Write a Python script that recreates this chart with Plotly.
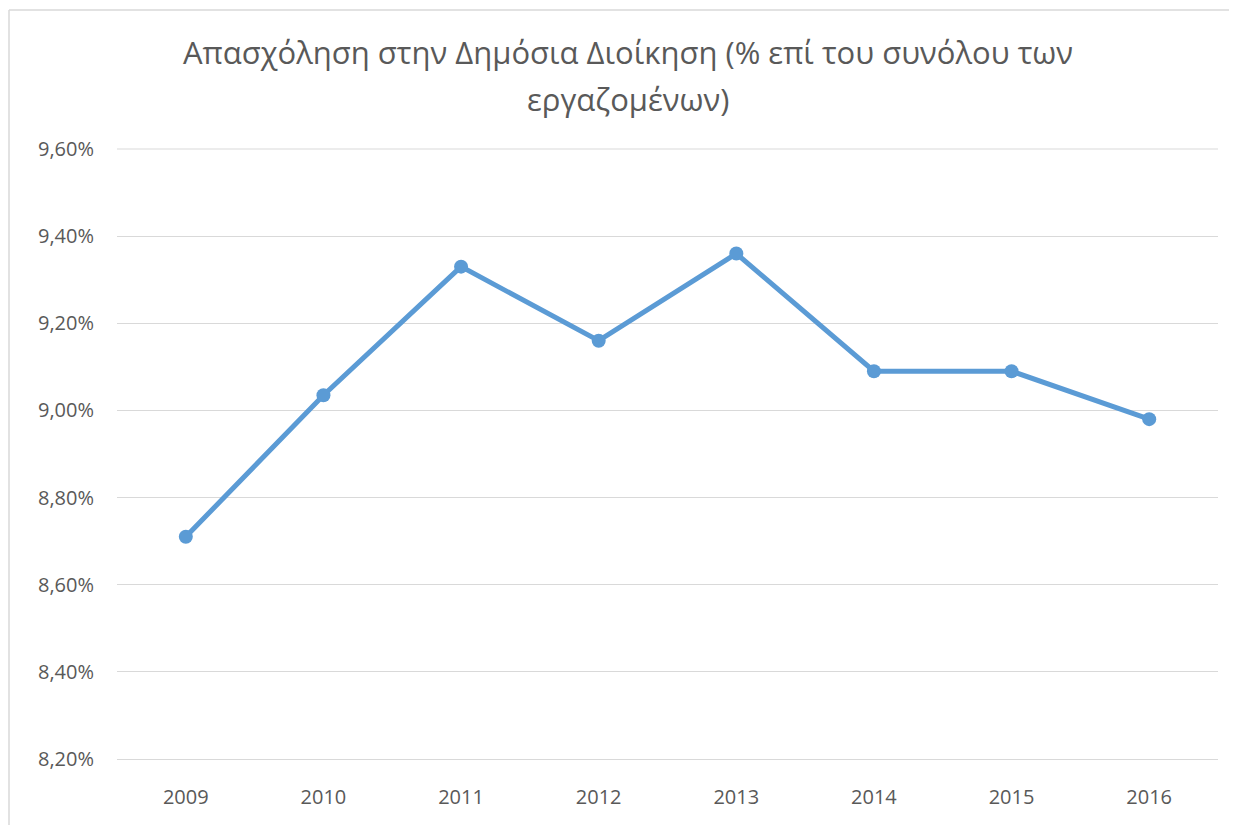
import plotly.graph_objects as go

# Data
years = ["2009", "2010", "2011", "2012", "2013", "2014", "2015", "2016"]
employment_pct = [8.71, 9.035, 9.33, 9.16, 9.36, 9.09, 9.09, 8.98]
y_ticks = [8.2, 8.4, 8.6, 8.8, 9.0, 9.2, 9.4, 9.6]
y_tick_labels = ["8,20%", "8,40%", "8,60%", "8,80%", "9,00%", "9,20%", "9,40%", "9,60%"]
title_line1 = "Απασχόληση στην Δημόσια Διοίκηση (% επί του συνόλου των"
title_line2 = "εργαζομένων)"

# page body has an 8px default margin; work in page pixels and subtract it
OFF = 8
W, H = 1237 - 2 * OFF, 833 - 2 * OFF
L, R, T, B = 117 - OFF, 1218 - OFF, 149 - OFF, 759 - OFF

def px_x(p):
    return (p - OFF - L) / (R - L)

def px_y(p):
    return (B - (p - OFF)) / (B - T)

FONT = "Open Sans"
GREY = "#595959"
BORDER = "#d9d9d9"

fig = go.Figure()
fig.add_trace(go.Scatter(
    x=years, y=employment_pct, mode="lines+markers",
    line=dict(color="#5B9BD5", width=5),
    marker=dict(color="#5B9BD5", size=14),
    cliponaxis=False, showlegend=False,
))

fig.update_layout(
    width=W, height=H,
    margin=dict(l=L, r=W - R, t=T, b=H - B),
    paper_bgcolor="white", plot_bgcolor="white",
    font=dict(family=FONT, color=GREY, size=20),
    xaxis=dict(
        type="category", range=[-0.5, len(years) - 0.5],
        showgrid=False, showline=True,
        linecolor=BORDER, linewidth=1, ticks="",
        tickfont=dict(family=FONT, size=20, color=GREY),
        ticklabelstandoff=20, fixedrange=True,
    ),
    yaxis=dict(
        range=[8.2, 9.6], tickvals=y_ticks, ticktext=y_tick_labels,
        showgrid=True, gridcolor=BORDER, gridwidth=1,
        zeroline=False, showline=False, ticks="",
        tickfont=dict(family=FONT, size=20, color=GREY),
        ticklabelstandoff=22, fixedrange=True,
    ),
    shapes=[
        # chart-area border: left and top edges (right/bottom lie outside the view)
        dict(type="line", xref="paper", yref="paper",
             x0=px_x(9), x1=px_x(9), y0=px_y(10), y1=px_y(900),
             line=dict(color=BORDER, width=1.5), layer="below"),
        dict(type="line", xref="paper", yref="paper",
             x0=px_x(9), x1=px_x(1300), y0=px_y(10), y1=px_y(10),
             line=dict(color=BORDER, width=1.5), layer="below"),
        dict(type="line", xref="paper", yref="paper",
             x0=0, x1=1, y0=1, y1=1,
             line=dict(color=BORDER, width=1), layer="below"),
    ],
    annotations=[
        dict(text=title_line1, xref="paper", yref="paper",
             x=px_x(628), y=px_y(52), xanchor="center", yanchor="middle",
             showarrow=False, font=dict(family=FONT, size=31, color=GREY)),
        dict(text=title_line2, xref="paper", yref="paper",
             x=px_x(628), y=px_y(99), xanchor="center", yanchor="middle",
             showarrow=False, font=dict(family=FONT, size=31, color=GREY)),
    ],
)

fig.write_html("out.html")
